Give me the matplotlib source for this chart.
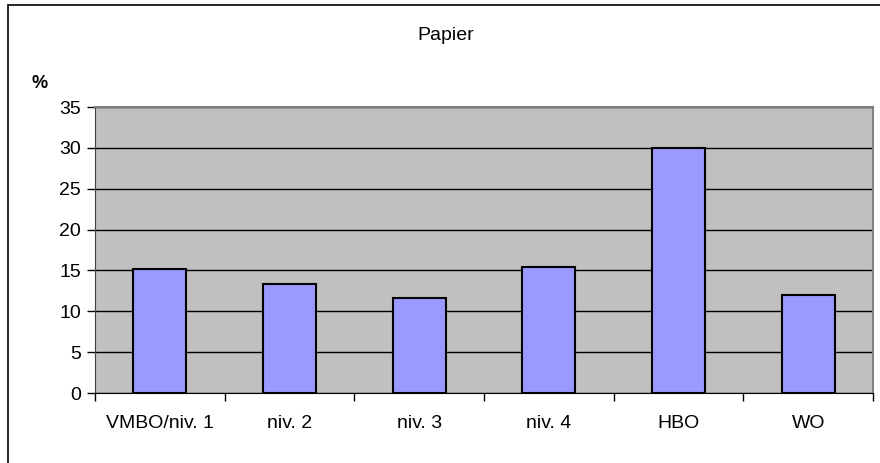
import numpy as np
import matplotlib.pyplot as plt
from matplotlib.patches import Rectangle

categories = ["VMBO/niv. 1", "niv. 2", "niv. 3", "niv. 4", "HBO", "WO"]
values = [15.2, 13.3, 11.6, 15.4, 30.0, 12.0]
yticks = [0, 5, 10, 15, 20, 25, 30, 35]

plt.rcParams["font.family"] = ["Liberation Sans", "DejaVu Sans"]

fig = plt.figure(figsize=(8.8, 4.63), dpi=100)
ax = fig.add_axes([95 / 880, 70 / 463, 778 / 880, 286 / 463])

x = np.arange(len(categories))
ax.set_facecolor("#C0C0C0")
ax.set_axisbelow(True)
ax.yaxis.grid(True, color="black", linewidth=1.0)
ax.bar(x, values, width=0.41, color="#9999FF", edgecolor="black", linewidth=1.5, zorder=3)

ax.set_xlim(-0.5, len(categories) - 0.5)
ax.set_ylim(0, 35)
ax.set_yticks(yticks)
ax.set_xticks(x)
ax.set_xticklabels(categories)
ax.set_xticks(np.arange(-0.5, len(categories), 1.0), minor=True)

ax.tick_params(axis="y", direction="out", length=6, width=1, labelsize=14, pad=4)
ax.tick_params(axis="x", which="major", length=0, labelsize=14, pad=16)
ax.tick_params(axis="x", which="minor", direction="out", length=6, width=1)

for side in ("top", "right"):
    ax.spines[side].set_color("#808080")
    ax.spines[side].set_linewidth(1.5)
ax.spines["left"].set_color("#404040")
ax.spines["bottom"].set_color("black")

fig.text(446 / 880, 1 - 36 / 463, "Papier", ha="center", va="center", fontsize=14)
fig.text(40 / 880, 1 - 84 / 463, "%", ha="center", va="center", fontsize=13, fontweight="bold")

fig.patches.append(Rectangle((8 / 880, -0.1), 1.2, 1 - 5 / 463 + 0.1,
                             transform=fig.transFigure, fill=False,
                             edgecolor="black", linewidth=1.2))

fig.savefig("out.png", dpi=100)
